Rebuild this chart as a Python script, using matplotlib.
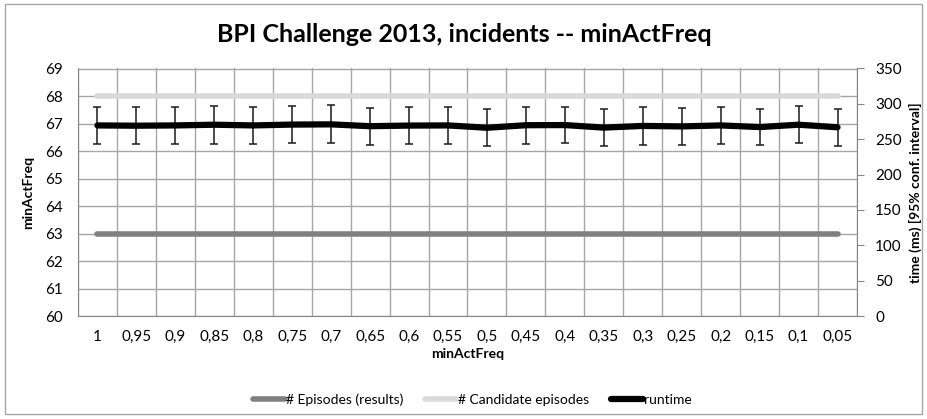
import matplotlib
matplotlib.use("Agg")
import matplotlib.pyplot as plt
import numpy as np
from matplotlib.patches import Rectangle

# values
min_act_freq = ["1", "0,95", "0,9", "0,85", "0,8", "0,75", "0,7", "0,65", "0,6", "0,55",
                "0,5", "0,45", "0,4", "0,35", "0,3", "0,25", "0,2", "0,15", "0,1", "0,05"]
episodes_results = [63] * 20
candidate_episodes = [68] * 20
runtime_ms = [269.5, 269.1, 269.5, 270.5, 269.5, 270.7, 271.0, 268.4, 269.3, 269.5,
              266.2, 269.8, 270.0, 266.4, 268.8, 268.1, 269.5, 267.2, 270.5, 266.9]
runtime_ci = [26.5, 26.3, 26.5, 26.6, 26.5, 26.6, 26.8, 26.3, 26.5, 26.5,
              26.0, 26.3, 26.0, 26.3, 26.3, 26.0, 26.5, 26.0, 26.5, 26.3]

plt.rcParams["font.family"] = ["Lato", "DejaVu Sans"]
GRID = "#a6a6a6"

fig = plt.figure(figsize=(9.28, 4.19), dpi=100)
fig.patches.append(Rectangle((5 / 928, 5 / 419), 917 / 928, 410 / 419, transform=fig.transFigure,
                             fill=False, edgecolor="#a6a6a6", linewidth=1))

ax = fig.add_axes([78 / 928, 1 - 316 / 419, 779 / 928, 247.5 / 419])
x = np.arange(len(min_act_freq))

ax.plot(x, episodes_results, color="#808080", lw=4, solid_capstyle="round",
        label="# Episodes (results)", zorder=3)
ax.plot(x, candidate_episodes, color="#d9d9d9", lw=4, solid_capstyle="round",
        label="# Candidate episodes", zorder=3)
ax.set_ylim(60, 69)
ax.set_yticks(range(60, 70))
ax.set_xlim(-0.5, len(x) - 0.5)
ax.set_xticks(x)
ax.set_xticklabels(min_act_freq)
ax.set_xticks(np.arange(-0.5, len(x)), minor=True)
ax.grid(True, which="minor", axis="x", color=GRID, lw=1)
ax.grid(True, which="major", axis="y", color=GRID, lw=1)
ax.tick_params(axis="x", which="both", length=0, pad=10, labelsize=11)
ax.tick_params(axis="y", length=0, pad=11, labelsize=11)
ax.set_axisbelow(True)
for s in ["top", "right"]:
    ax.spines[s].set_visible(False)
ax.spines["left"].set_color("#868686")
ax.spines["bottom"].set_color("#868686")
ax.set_xlabel("minActFreq", fontsize=10, fontweight="bold", labelpad=3)
ax.set_ylabel("minActFreq", fontsize=10, fontweight="bold", labelpad=8)

ax2 = ax.twinx()
ax2.errorbar(x, runtime_ms, yerr=runtime_ci, fmt="none", ecolor="#1a1a1a",
             elinewidth=1.1, capsize=2.8, capthick=1.1, zorder=4)
ax2.plot(x, runtime_ms, color="black", lw=4.5, solid_capstyle="round",
         label="runtime", zorder=5)
ax2.set_ylim(0, 350)
ax2.set_yticks(range(0, 351, 50))
ax2.tick_params(axis="y", length=5, color="#868686", pad=8, labelsize=11)
for s in ["top", "left", "bottom"]:
    ax2.spines[s].set_visible(False)
ax2.spines["right"].set_color("#868686")
ax2.set_ylabel("time (ms) [95% conf. interval]", fontsize=10, fontweight="bold",
               rotation=90, labelpad=5)

fig.suptitle("BPI Challenge 2013, incidents -- minActFreq", fontsize=18,
             fontweight="bold", y=1 - 35 / 419, va="center")

h1, l1 = ax.get_legend_handles_labels()
h2, l2 = ax2.get_legend_handles_labels()
fig.legend(h1 + h2, l1 + l2, loc="center", bbox_to_anchor=(0.509, 1 - 400 / 419), ncol=3,
           frameon=False, fontsize=10, handlelength=2.3, handletextpad=0.05, columnspacing=1.6)

fig.savefig("out.png", dpi=100)
